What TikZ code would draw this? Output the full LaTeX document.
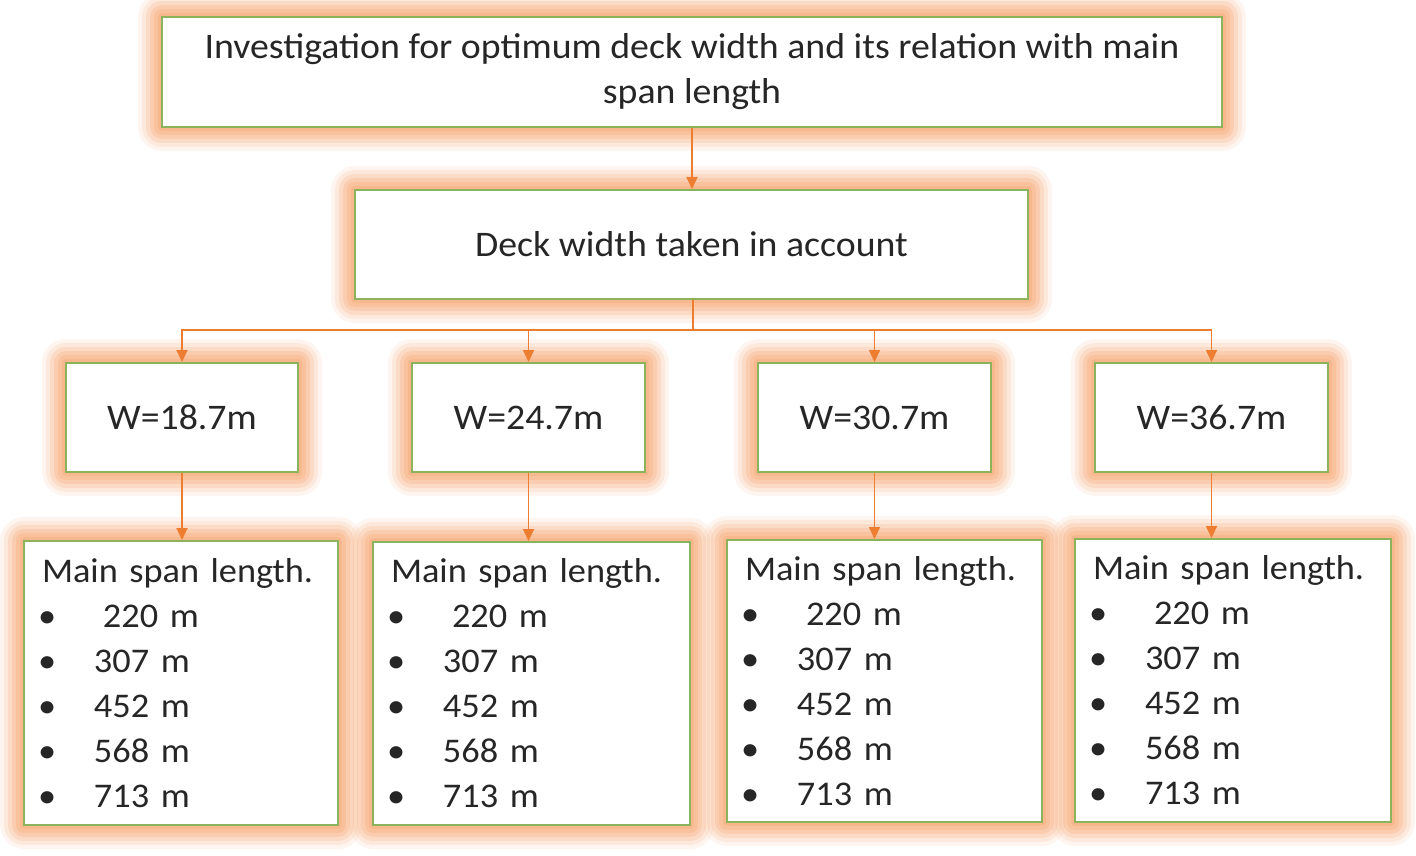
\documentclass[tikz,border=0pt]{standalone}
\usepackage{fontspec}
\setmainfont{Carlito}[FakeStretch=1.05]
\usetikzlibrary{arrows.meta}
\definecolor{glowc}{RGB}{248,166,112}
\definecolor{boxline}{RGB}{140,178,92}
\definecolor{arrc}{RGB}{237,125,49}
\definecolor{txt}{RGB}{38,38,38}
\tikzset{
  glowbox/.style={draw=boxline, line width=1pt, fill=white, text=txt, inner sep=0pt,
    preaction={draw=glowc, line width=24pt, draw opacity=0.10, line join=round},
    preaction={draw=glowc, line width=20pt, draw opacity=0.15, line join=round},
    preaction={draw=glowc, line width=16pt, draw opacity=0.20, line join=round},
    preaction={draw=glowc, line width=12pt, draw opacity=0.25, line join=round},
    preaction={draw=glowc, line width=8pt, draw opacity=0.30, line join=round},
    preaction={draw=glowc, line width=4pt, draw opacity=0.30, line join=round}},
  topfont/.style={font=\fontsize{18}{22.5}\selectfont},
  wfont/.style={font=\fontsize{18}{20}\selectfont},
  listfont/.style={font=\fontsize{17.3}{22.5}\selectfont},
  listbox/.style={glowbox, listfont, align=left, inner xsep=9pt, text width=#1},
  arr/.style={draw=arrc, line width=0.9pt, -{Triangle[length=6pt,width=5.5pt]}},
  plainline/.style={draw=arrc, line width=0.9pt}
}
\newcommand{\bul}[1]{\hspace*{-2pt}\makebox[28pt][l]{\textbullet}#1}
\newcommand{\spanlist}{Main span length.\\
\bul{\hspace*{4.5pt}220 m}\\
\bul{307 m}\\
\bul{452 m}\\
\bul{568 m}\\
\bul{713 m}}
\begin{document}
\begin{tikzpicture}[x=0.5pt,y=-0.5pt]
\useasboundingbox (0,0) rectangle (1416,855);
\fill[white] (0,0) rectangle (1416,855);
% top box
\node[glowbox, topfont, align=center, minimum width=530pt, minimum height=55pt] (top) at (692,72)
  {Investigation for optimum deck width and its relation with main\\span length};
\node[glowbox, wfont, minimum width=336.5pt, minimum height=54.5pt] (deck) at (691.5,244.5)
  {Deck width taken in account};
% W boxes
\node[glowbox, wfont, minimum width=116pt, minimum height=54.5pt] (w1) at (182,417.5) {W=18.7m};
\node[glowbox, wfont, minimum width=116.5pt, minimum height=54.5pt] (w2) at (528.5,417.5) {W=24.7m};
\node[glowbox, wfont, minimum width=116.5pt, minimum height=54.5pt] (w3) at (874.5,417.5) {W=30.7m};
\node[glowbox, wfont, minimum width=116.5pt, minimum height=54.5pt] (w4) at (1211.5,417.5) {W=36.7m};
% bottom boxes
\node[listbox=139pt, minimum height=142pt] (b1) at (181,683) {\spanlist};
\node[listbox=140.5pt, minimum height=141.5pt] (b2) at (531.5,683.5) {\spanlist};
\node[listbox=139.5pt, minimum height=141pt] (b3) at (884.5,681) {\spanlist};
\node[listbox=140pt, minimum height=141.5pt] (b4) at (1233,680.5) {\spanlist};
% connectors
\coordinate (branch) at (693,330);
\draw[arr] (top.south) -- (top.south |- deck.north);
\draw[plainline] (deck.south -| branch) -- (branch);
\draw[arr] (branch) -| (w1.north);
\draw[arr] (branch) -| (w2.north);
\draw[arr] (branch) -| (w3.north);
\draw[arr] (branch) -| (w4.north);
\draw[arr] (w1.south) -- (w1.south |- b1.north);
\draw[arr] (w2.south) -- (w2.south |- b2.north);
\draw[arr] (w3.south) -- (w3.south |- b3.north);
\draw[arr] (w4.south) -- (w4.south |- b4.north);
\end{tikzpicture}
\end{document}
